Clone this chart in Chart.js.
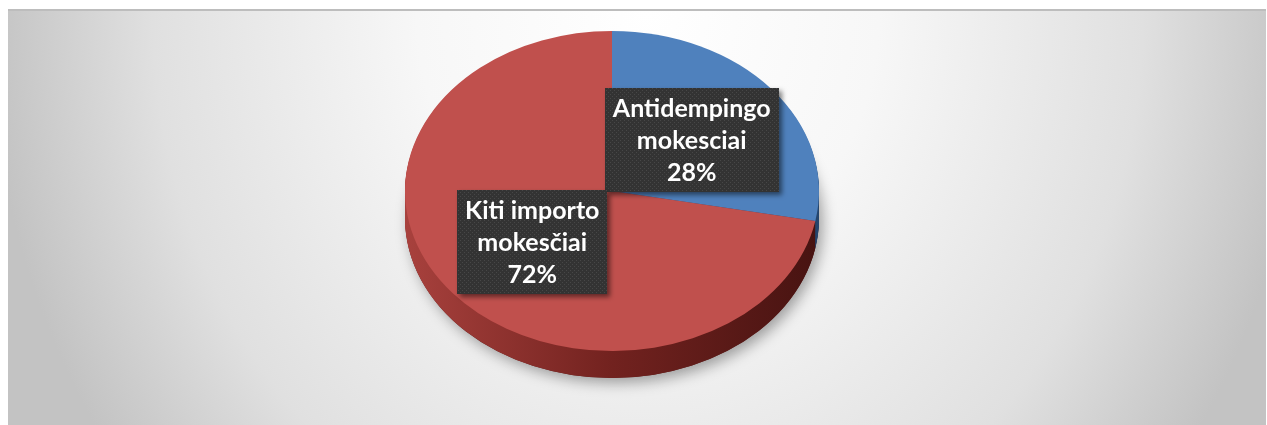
<!DOCTYPE html>
<html>
<head>
<meta charset="utf-8">
<script src="https://cdn.jsdelivr.net/npm/chart.js@4.4.1/dist/chart.umd.min.js"></script>
<style>
  html, body { margin: 0; padding: 0; background: #fff; overflow: hidden; }
  #panel {
    position: absolute; left: 8px; top: 9px; width: 1258px; height: 416px;
    box-sizing: border-box; border-top: 2px solid #bdbdbd;
    background: radial-gradient(ellipse 660px 760px at 640px 0px, #ffffff 0%, #f7f7f7 35%, #e0e0e0 75%, #c3c3c3 100%);
  }
  #pie { position: absolute; left: 0; top: 0; }
</style>
</head>
<body>
<div id="panel"></div>
<canvas id="pie" width="1267" height="425"></canvas>
<script>
const categories = ["Antidempingo mokesciai", "Kiti importo mokesčiai"];
const shares = [28, 72];
const labelLines = [["Antidempingo", "mokesciai"], ["Kiti importo", "mokesčiai"]];
const topColors = ["#4f81bd", "#c0504d"];
const sideColors = [["#3a6597", "#24456d"], ["#a8413d", "#72221f", "#471311"]];

// the pie is drawn round by Chart.js, then stretched sideways to look tilted
const stretchX = 207 / 160;
const depth = 27;

function dotPattern(ctx) {
  const c = document.createElement("canvas");
  c.width = 4; c.height = 4;
  const p = c.getContext("2d");
  p.fillStyle = "#333333";
  p.fillRect(0, 0, 4, 4);
  p.fillStyle = "#474747";
  p.fillRect(0, 0, 1, 1);
  p.fillRect(2, 2, 1, 1);
  return ctx.createPattern(c, "repeat");
}

const tilt = {
  id: "tilt",
  beforeDatasetsDraw(chart) {
    const ctx = chart.ctx;
    const arcs = chart.getDatasetMeta(0).data;
    const cx = arcs[0].x, cy = arcs[0].y, r = arcs[0].outerRadius;
    ctx.save();
    ctx.translate(cx, 0);
    ctx.scale(stretchX, 1);
    ctx.translate(-cx, 0);

    // soft shadow under the pie
    ctx.save();
    ctx.shadowColor = "rgba(0,0,0,0.35)";
    ctx.shadowBlur = 14;
    ctx.shadowOffsetX = 4;
    ctx.shadowOffsetY = 5;
    ctx.beginPath();
    ctx.arc(cx, cy + depth, r, 0, Math.PI * 2);
    ctx.fillStyle = "#5a1a18";
    ctx.fill();
    ctx.restore();

    // side walls: stacked copies of each slice, lowest first
    arcs.forEach((a, i) => {
      const g = ctx.createLinearGradient(cx - r, 0, cx + r, 0);
      const stops = sideColors[i];
      stops.forEach((c, k) => g.addColorStop(k / (stops.length - 1), c));
      ctx.fillStyle = g;
      for (let d = depth; d >= 1; d--) {
        ctx.beginPath();
        ctx.moveTo(a.x, a.y + d);
        ctx.arc(a.x, a.y + d, a.outerRadius, a.startAngle, a.endAngle);
        ctx.closePath();
        ctx.fill();
      }
    });
  },
  afterDatasetsDraw(chart) {
    chart.ctx.restore();
  },
  afterDraw(chart) {
    const ctx = chart.ctx;
    const arcs = chart.getDatasetMeta(0).data;
    const cx = arcs[0].x;
    const pattern = dotPattern(ctx);
    ctx.save();
    ctx.font = "bold 25px Lato";
    ctx.textAlign = "center";
    ctx.textBaseline = "middle";
    const lineH = 32, padX = 8, padY = 4;
    arcs.forEach((a, i) => {
      const p = a.getCenterPoint();
      const x = cx + (p.x - cx) * stretchX;
      const y = p.y;
      const lines = labelLines[i].concat([shares[i] + "%"]);
      const w = Math.max(...lines.map(t => ctx.measureText(t).width)) + padX * 2;
      const h = lines.length * lineH + padY * 2;
      ctx.save();
      ctx.shadowColor = "rgba(0,0,0,0.5)";
      ctx.shadowBlur = 5;
      ctx.shadowOffsetX = 3;
      ctx.shadowOffsetY = 3;
      ctx.fillStyle = pattern;
      ctx.fillRect(Math.round(x - w / 2), Math.round(y - h / 2), Math.round(w), Math.round(h));
      ctx.restore();
      ctx.fillStyle = "#ffffff";
      lines.forEach((t, k) => {
        ctx.fillText(t, x, y - h / 2 + padY + lineH * (k + 0.5) + 1);
      });
    });
    ctx.restore();
  }
};

new Chart(document.querySelector("#pie"), {
  type: "pie",
  data: {
    labels: categories,
    datasets: [
      {
        data: shares,
        backgroundColor: topColors,
        borderWidth: 0,
        clip: false,
      },
    ],
  },
  options: {
    responsive: false,
    animation: false,
    devicePixelRatio: 1,
    layout: { padding: { left: 452, right: 495, top: 31, bottom: 74 } },
    plugins: {
      legend: { display: false },
      tooltip: { enabled: false },
    },
  },
  plugins: [tilt],
});
</script>
</body>
</html>
